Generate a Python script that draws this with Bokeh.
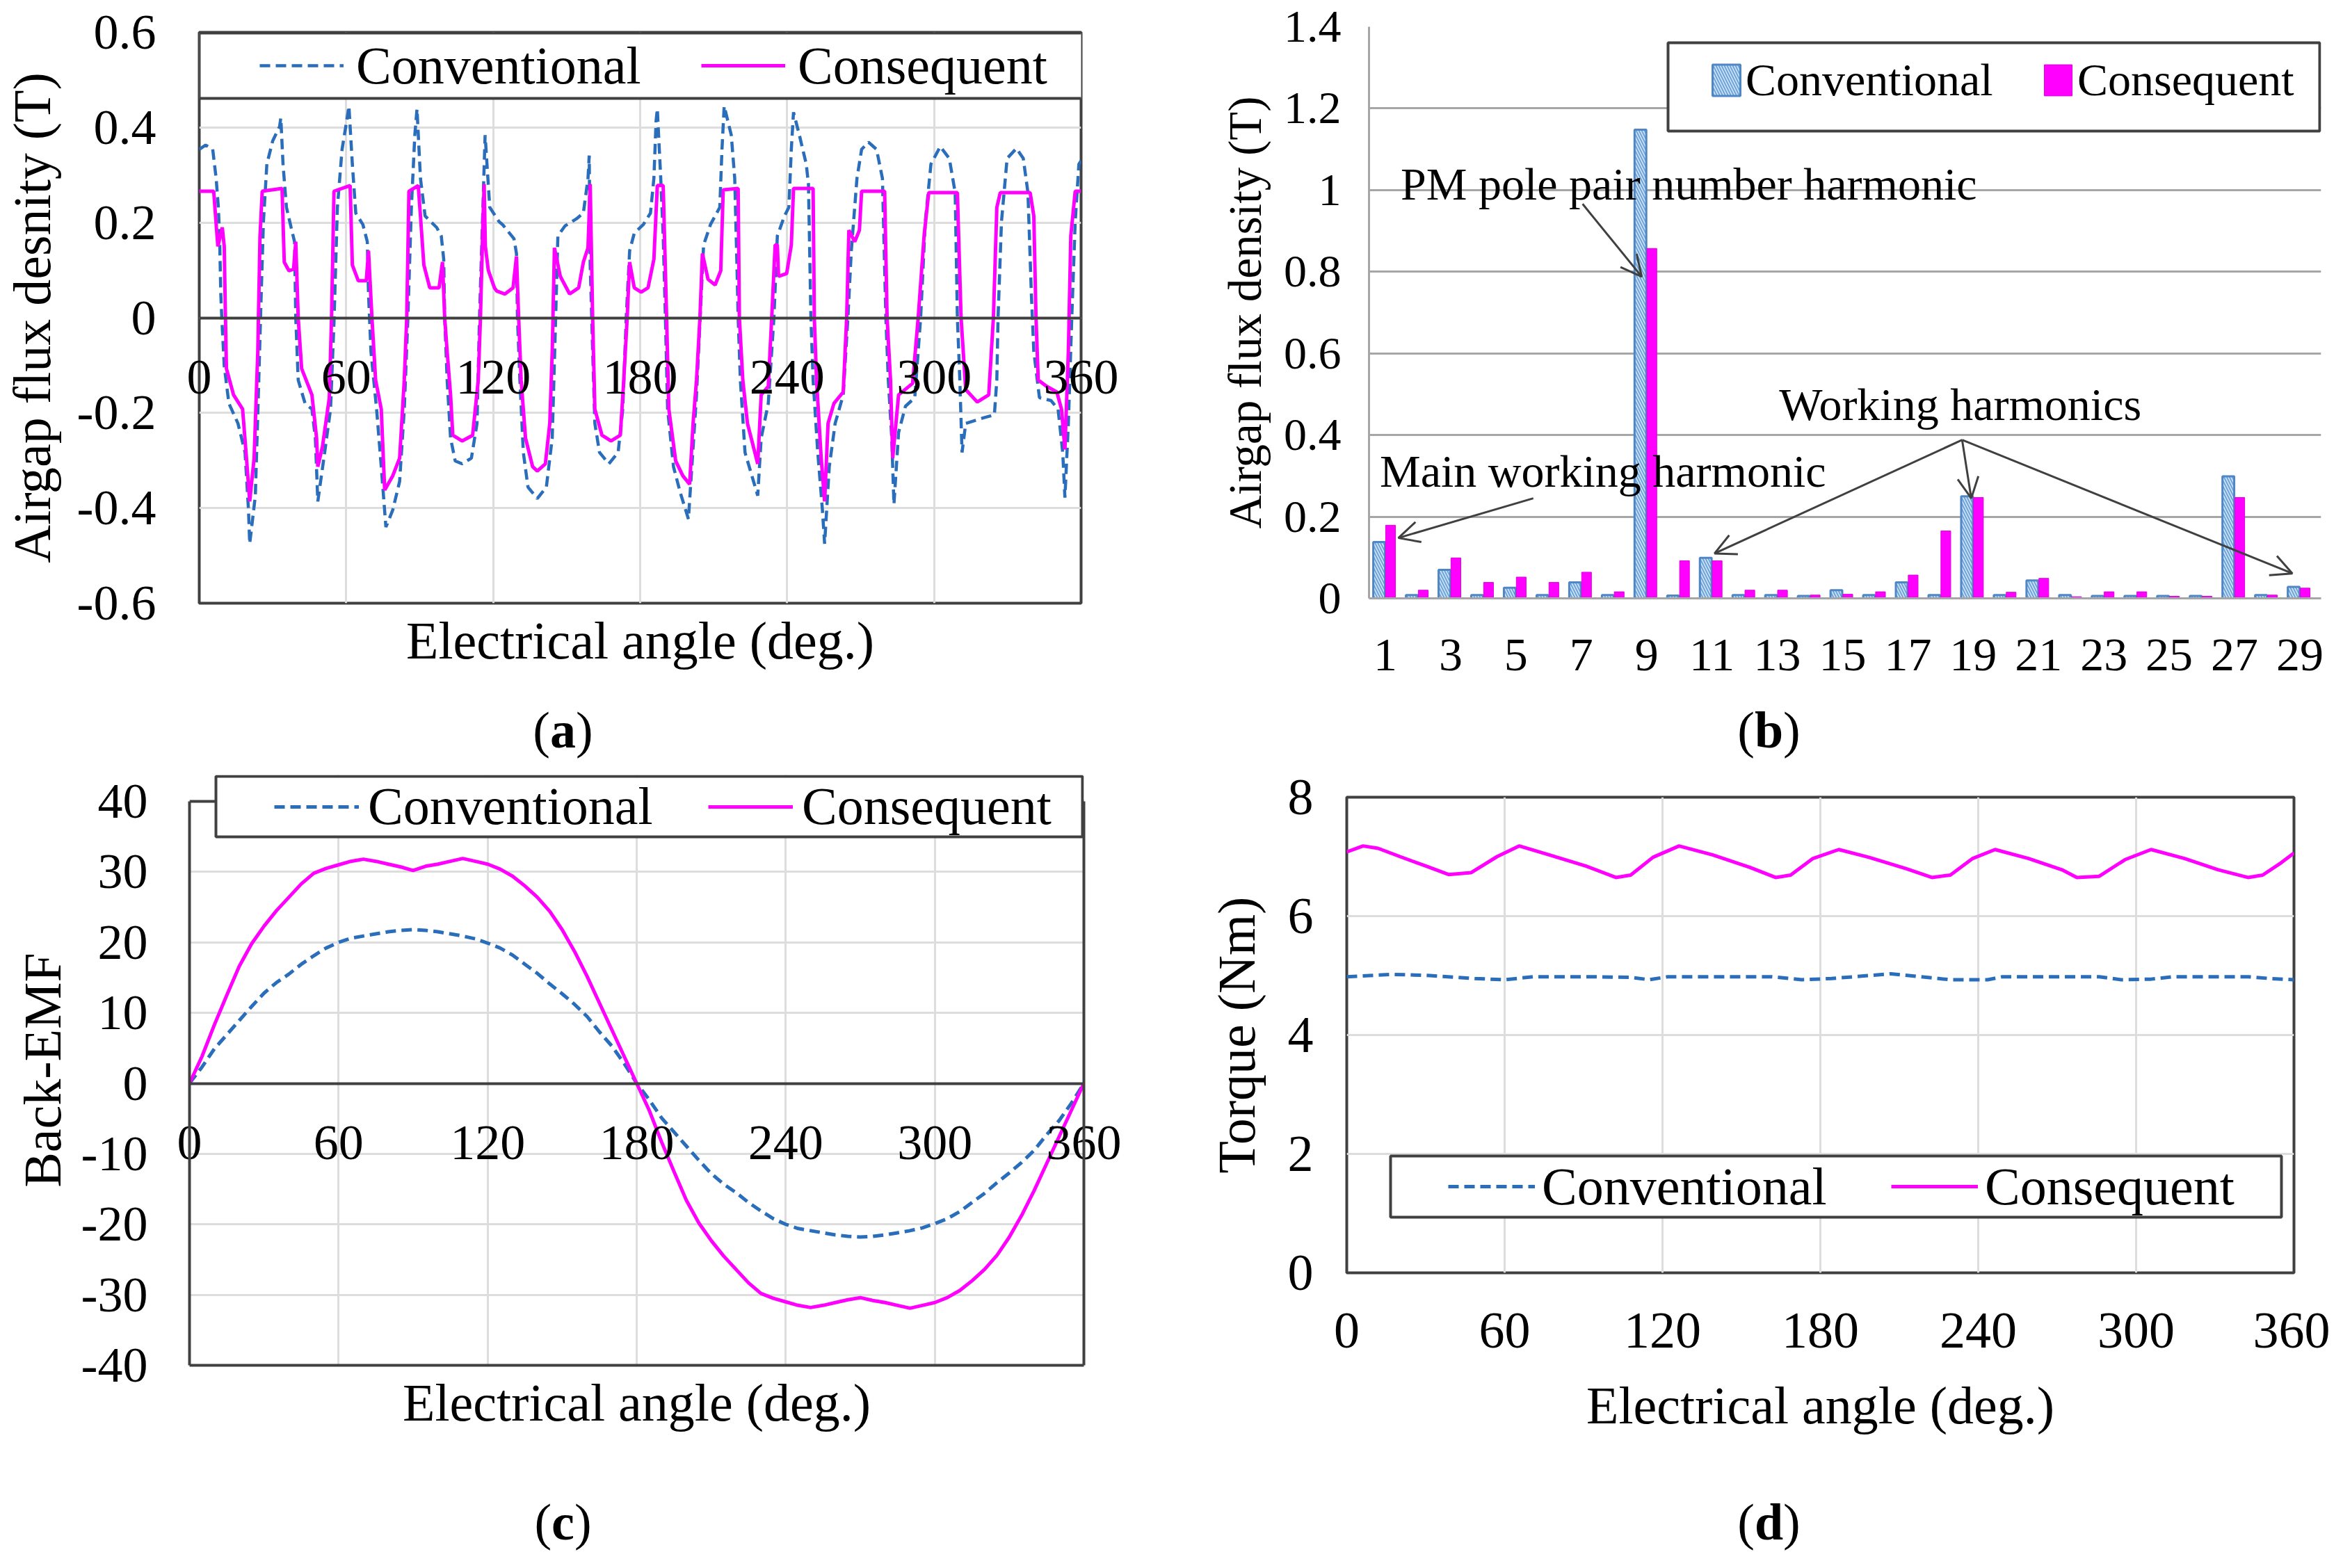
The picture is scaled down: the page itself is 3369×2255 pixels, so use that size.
from bokeh.plotting import figure
from bokeh.models import (Range1d, LinearAxis, FixedTicker, CustomJSTickFormatter, Legend,
                          LegendItem, BoxAnnotation, Label, Arrow, OpenHead, ColumnDataSource)
from bokeh.layouts import row, column
from bokeh.transform import dodge
from bokeh.embed import file_html
from bokeh.resources import INLINE

# ---------------------------------------------------------------- data
series_names = ["Conventional", "Consequent"]
angle_ticks = [0, 60, 120, 180, 240, 300, 360]

# (a) airgap flux density waveform
a_conv_deg = [0, 2.6, 5.5, 6.9, 7.8, 8.3, 8.8, 9.2, 10.2, 12.1, 15.8, 18.7, 20.1, 20.6, 22.9, 24.3,
              25.3, 26.2, 27.6, 30.0, 32.8, 33.3, 34.2, 35.6, 37.5, 38.9, 39.4, 40.4, 43.2, 46.0,
              47.4, 48.4, 51.2, 53.6, 55.0, 56.4, 58.3, 60.2, 61.1, 62.5, 63.9, 66.8, 68.6, 69.1,
              70.1, 72.4, 74.3, 76.2, 79.0, 81.8, 83.7, 85.1, 86.6, 88.0, 88.9, 90.3, 92.2, 96.9,
              98.8, 99.8, 100.2, 101.2, 102.6, 104.5, 107.3, 111.1, 113.4, 114.4, 115.8, 116.7,
              118.6, 122.4, 123.8, 128.5, 129.5, 129.9, 130.9, 132.3, 134.2, 138.0, 141.7, 144.1,
              145.5, 146.4, 149.3, 154.0, 156.8, 158.7, 159.2, 159.6, 160.6, 161.5, 163.4, 167.2,
              171.0, 172.9, 174.3, 175.7, 177.6, 181.3, 184.2, 185.6, 186.5, 187.0, 188.4, 189.4,
              190.3, 191.2, 193.6, 196.4, 199.7, 201.1, 203.0, 204.4, 205.9, 208.7, 212.5, 213.4,
              214.3, 217.2, 218.6, 219.5, 220.0, 220.9, 222.8, 225.6, 228.0, 229.4, 232.3, 234.6,
              236.0, 238.9, 240.7, 241.7, 242.6, 245.0, 247.8, 248.7, 249.7, 250.6, 252.5, 254.4,
              255.3, 257.2, 259.6, 262.9, 264.8, 266.2, 268.5, 270.4, 273.2, 276.5, 278.9, 280.3,
              281.3, 282.7, 283.6, 285.5, 288.3, 292.1, 294.5, 296.4, 298.7, 302.5, 306.2, 308.6,
              309.5, 310.5, 311.4, 312.9, 316.6, 320.4, 324.6, 325.6, 326.1, 327.5, 329.8, 333.6,
              336.4, 338.3, 339.7, 340.7, 343.0, 347.7, 350.6, 352.5, 353.4, 354.8, 356.2, 357.6,
              359.1, 360.0]
a_conv_T = [0.354, 0.363, 0.354, 0.293, 0.232, 0.172, 0.05, 0.0, -0.101, -0.18, -0.222, -0.283, -0.404,
            -0.475, -0.374, -0.131, 0.05, 0.202, 0.323, 0.372, 0.402, 0.42, 0.323, 0.232, 0.19, 0.16,
            0.0, -0.131, -0.18, -0.192, -0.253, -0.386, -0.283, -0.192, -0.01, 0.232, 0.354, 0.414,
            0.445, 0.323, 0.22, 0.196, 0.16, 0.05, -0.071, -0.192, -0.313, -0.44, -0.404, -0.344,
            -0.192, -0.01, 0.232, 0.384, 0.439, 0.293, 0.214, 0.19, 0.172, 0.123, 0.0, -0.131, -0.253,
            -0.301, -0.307, -0.295, -0.222, 0.0, 0.232, 0.384, 0.232, 0.202, 0.196, 0.166, 0.135, 0.0,
            -0.131, -0.283, -0.356, -0.38, -0.356, -0.253, 0.0, 0.172, 0.193, 0.208, 0.22, 0.293,
            0.341, 0.111, -0.071, -0.222, -0.283, -0.307, -0.283, -0.192, 0.0, 0.141, 0.178, 0.196,
            0.22, 0.293, 0.414, 0.439, 0.293, 0.172, 0.0, -0.192, -0.313, -0.368, -0.423, -0.313,
            -0.162, -0.01, 0.153, 0.196, 0.232, 0.354, 0.445, 0.384, 0.293, 0.111, 0.0, -0.131,
            -0.283, -0.332, -0.374, -0.253, -0.18, 0.0, 0.172, 0.214, 0.232, 0.354, 0.432, 0.384,
            0.323, 0.281, 0.0, -0.131, -0.283, -0.404, -0.475, -0.313, -0.222, -0.162, 0.0, 0.141,
            0.293, 0.354, 0.369, 0.354, 0.293, 0.0, -0.131, -0.253, -0.392, -0.241, -0.186, -0.168,
            0.0, 0.202, 0.323, 0.36, 0.335, 0.263, 0.0, -0.131, -0.283, -0.222, -0.216, -0.21,
            -0.204, -0.131, 0.0, 0.202, 0.335, 0.356, 0.335, 0.263, 0.05, -0.071, -0.168, -0.174,
            -0.192, -0.283, -0.378, -0.222, 0.0, 0.202, 0.323, 0.33]
a_cons_deg = [0, 5.9, 7.0, 7.6, 9.4, 10.2, 10.7, 11.1, 14.0, 17.7, 19.1, 20.6, 22.4, 23.9, 24.8, 25.7,
              33.8, 34.7, 36.6, 38.5, 39.4, 40.4, 41.8, 46.0, 47.9, 48.4, 50.3, 53.1, 54.0, 55.0,
              61.6, 62.5, 64.9, 68.2, 69.1, 70.5, 72.0, 74.3, 75.7, 79.0, 81.8, 83.7, 84.7, 85.6,
              89.4, 90.3, 91.7, 94.1, 97.9, 99.3, 100.2, 101.2, 102.6, 103.5, 107.3, 111.6, 113.9,
              114.8, 115.8, 116.3, 116.8, 118.0, 120.5, 121.5, 124.8, 128.1, 129.5, 130.4, 131.4,
              133.2, 136.1, 138.0, 141.3, 143.1, 144.1, 145.0, 147.4, 151.2, 154.9, 156.8, 158.7,
              159.6, 160.6, 161.5, 164.4, 168.1, 171.9, 173.3, 174.7, 175.7, 177.6, 180.4, 183.2,
              185.6, 187.0, 189.4, 190.8, 191.7, 194.5, 197.4, 200.2, 201.6, 203.0, 204.4, 205.4,
              207.7, 210.6, 212.9, 213.9, 220.0, 220.5, 221.9, 223.8, 228.0, 229.4, 232.3, 233.7,
              235.1, 236.0, 236.5, 239.8, 241.7, 242.6, 250.6, 251.1, 252.0, 253.9, 255.3, 256.7,
              259.1, 262.9, 264.3, 265.2, 267.6, 269.5, 270.4, 279.8, 280.8, 282.2, 283.1, 285.5,
              291.2, 293.5, 295.9, 297.8, 309.5, 311.0, 312.9, 317.6, 322.3, 324.2, 325.6, 327.0,
              339.2, 340.7, 341.6, 342.5, 345.9, 350.1, 352.0, 353.4, 354.8, 355.8, 357.6, 360.0]
a_cons_T = [0.266, 0.266, 0.19, 0.15, 0.19, 0.15, 0.0, -0.107, -0.162, -0.192, -0.283, -0.386, -0.295,
            -0.071, 0.172, 0.266, 0.272, 0.117, 0.099, 0.102, 0.16, 0.0, -0.107, -0.162, -0.253,
            -0.313, -0.271, -0.168, 0.0, 0.266, 0.278, 0.111, 0.078, 0.078, 0.141, 0.0, -0.131,
            -0.192, -0.362, -0.332, -0.295, -0.131, 0.0, 0.266, 0.278, 0.214, 0.111, 0.063, 0.063,
            0.117, 0.0, -0.071, -0.162, -0.247, -0.259, -0.247, -0.131, 0.0, 0.2, 0.281, 0.15, 0.1,
            0.063, 0.056, 0.05, 0.063, 0.129, 0.0, -0.131, -0.253, -0.313, -0.322, -0.307, -0.222,
            -0.071, 0.147, 0.087, 0.05, 0.063, 0.117, 0.147, 0.281, 0.0, -0.192, -0.247, -0.259,
            -0.247, -0.131, 0.0, 0.117, 0.063, 0.054, 0.063, 0.123, 0.278, 0.278, 0.0, -0.192,
            -0.301, -0.332, -0.35, -0.222, -0.131, 0.0, 0.135, 0.081, 0.069, 0.099, 0.269, 0.272,
            0.0, -0.131, -0.222, -0.307, -0.162, -0.144, 0.0, 0.153, 0.153, 0.087, 0.093, 0.153,
            0.272, 0.272, 0.0, -0.131, -0.295, -0.386, -0.222, -0.18, -0.156, 0.0, 0.184, 0.16,
            0.184, 0.266, 0.266, 0.0, -0.131, -0.295, -0.162, -0.138, 0.0, 0.172, 0.263, 0.263,
            0.0, -0.151, -0.177, -0.162, 0.0, 0.232, 0.263, 0.263, 0.214, 0.0, -0.131, -0.144,
            -0.156, -0.192, -0.277, -0.071, 0.172, 0.266, 0.266]
a_y_ticks = [-0.6, -0.4, -0.2, 0, 0.2, 0.4, 0.6]

# (b) harmonic spectrum
harmonic_order = list(range(1, 30))
b_conv = [0.138, 0.008, 0.07, 0.008, 0.026, 0.008, 0.039, 0.008, 1.148, 0.007, 0.099, 0.008, 0.008,
          0.006, 0.02, 0.008, 0.039, 0.008, 0.25, 0.008, 0.044, 0.008, 0.006, 0.006, 0.006, 0.006,
          0.299, 0.008, 0.028]
b_cons = [0.179, 0.02, 0.099, 0.039, 0.052, 0.039, 0.064, 0.016, 0.857, 0.092, 0.092, 0.02, 0.02,
          0.008, 0.01, 0.016, 0.057, 0.165, 0.247, 0.015, 0.049, 0.004, 0.016, 0.016, 0.005, 0.005,
          0.247, 0.008, 0.025]
b_x_ticks = [1, 3, 5, 7, 9, 11, 13, 15, 17, 19, 21, 23, 25, 27, 29]
b_y_ticks = [0, 0.2, 0.4, 0.6, 0.8, 1.0, 1.2, 1.4]
b_notes = ["PM pole pair number harmonic", "Working harmonics", "Main working harmonic"]
b_note_x = [1.47, 13.06, 0.83]
b_note_y = [1.015, 0.475, 0.312]
# arrows: start x, start y, end x, end y (data units)
b_arrow_x0 = [7.04, 5.53, 18.66, 18.66, 18.66]
b_arrow_y0 = [0.966, 0.245, 0.388, 0.388, 0.388]
b_arrow_x1 = [8.85, 1.40, 11.08, 18.94, 28.77]
b_arrow_y1 = [0.788, 0.148, 0.11, 0.245, 0.061]

# (c) back-EMF, every 5 degrees
c_angle = list(range(0, 361, 5))
c_conv = [0, 2.3, 4.9, 6.9, 8.9, 10.9, 12.8, 14.3, 15.5, 16.9, 18.1, 19.2, 20.0, 20.6, 20.9, 21.2,
          21.5, 21.7, 21.8, 21.7, 21.5, 21.2, 20.9, 20.5, 19.9, 19.2, 18.2, 16.9, 15.6, 14.1, 12.7,
          11.2, 9.5, 7.3, 5.3, 2.8, 0,
          -2.3, -4.9, -6.9, -8.9, -10.9, -12.8, -14.3, -15.5, -16.9, -18.1, -19.2, -20.0, -20.6,
          -20.9, -21.2, -21.5, -21.7, -21.8, -21.7, -21.5, -21.2, -20.9, -20.5, -19.9, -19.2, -18.2,
          -16.9, -15.6, -14.1, -12.7, -11.2, -9.5, -7.3, -5.3, -2.8, 0]
c_cons = [0, 3.8, 8.3, 12.5, 16.6, 19.8, 22.3, 24.5, 26.4, 28.3, 29.8, 30.5, 31.0, 31.5, 31.8, 31.5,
          31.1, 30.7, 30.2, 30.8, 31.1, 31.5, 31.9, 31.5, 31.1, 30.4, 29.4, 28.0, 26.4, 24.4, 21.8,
          18.7, 15.2, 11.4, 7.6, 3.8, 0,
          -3.8, -8.3, -12.5, -16.6, -19.8, -22.3, -24.5, -26.4, -28.3, -29.8, -30.5, -31.0, -31.5,
          -31.8, -31.5, -31.1, -30.7, -30.4, -30.8, -31.1, -31.5, -31.9, -31.5, -31.1, -30.4, -29.4,
          -28.0, -26.4, -24.4, -21.8, -18.7, -15.2, -11.4, -7.6, -3.8, 0]
c_y_ticks = [-40, -30, -20, -10, 0, 10, 20, 30, 40]

# (d) torque
d_cons_deg = [0, 6.2, 11.9, 20.3, 30.2, 38.7, 47.2, 57.1, 65.6, 76.9, 91.0, 102.3, 107.9, 116.4,
              126.3, 139.0, 153.2, 163.0, 168.7, 177.2, 187.0, 198.4, 212.5, 222.4, 229.4, 237.9,
              246.4, 259.1, 271.8, 277.5, 286.0, 295.8, 305.7, 318.4, 331.2, 342.5, 348.1, 355.2, 360]
d_cons = [7.08, 7.18, 7.14, 7.0, 6.84, 6.70, 6.73, 7.0, 7.18, 7.03, 6.84, 6.65, 6.69, 6.99, 7.18,
          7.03, 6.82, 6.65, 6.69, 6.97, 7.12, 6.99, 6.80, 6.65, 6.69, 6.97, 7.12, 6.97, 6.78, 6.65,
          6.67, 6.95, 7.12, 6.97, 6.78, 6.65, 6.69, 6.90, 7.06]
d_conv_deg = [0, 17.5, 31.6, 48.6, 60.0, 71.0, 93.8, 108.0, 115.0, 122.0, 161.6, 172.9, 184.2, 206.8,
              218.1, 229.4, 243.6, 249.2, 286.0, 294.4, 305.7, 314.2, 342.5, 351.0, 360]
d_conv = [4.98, 5.02, 5.0, 4.95, 4.93, 4.98, 4.98, 4.97, 4.93, 4.98, 4.98, 4.93, 4.95, 5.03, 4.98,
          4.93, 4.93, 4.98, 4.98, 4.93, 4.94, 4.98, 4.98, 4.95, 4.93]
d_y_ticks = [0, 2, 4, 6, 8]

# ---------------------------------------------------------------- style / layout
FONT = "Liberation Serif"
BLUE = "#2A6EBB"
MAG = "#FF00FF"
DARK = "#404040"
GRID_LIGHT = "#DDDDDD"
GRID_MID = "#A6A6A6"
DASH = "15 8"
FMT = "return String(Math.round(tick*10)/10);"

W_L, W_R = 1680, 1670
H_T, TAG_T, H_B, TAG_B = 1000, 100, 1022, 116
ORIGIN = {"a": (8, 8), "b": (8 + W_L, 8), "c": (8, 8 + H_T + TAG_T), "d": (8 + W_L, 8 + H_T + TAG_T)}
# frame edges in page pixels: left, right, top, bottom
FRAMES = {"a": (289, 1562, 54, 875), "b": (1976, 3345, 46, 868),
          "c": (280, 1566, 1122, 1971), "d": (1944, 3306, 1154, 1838)}
C_TOP = 40 + (1160 - 1122) * 80.0 / (1971 - 1160)   # (c) frame extends above the 40 line


def make_fig(key, w, h, xr, yr):
    ox, oy = ORIGIN[key]
    l, r, t, b = FRAMES[key]
    p = figure(width=w, height=h, x_range=xr, y_range=yr, output_backend="svg",
               toolbar_location=None, frame_align=False,
               min_border_left=l - ox, min_border_right=w - (r - ox),
               min_border_top=t - oy, min_border_bottom=h - (b - oy))
    p.background_fill_color = "white"
    p.border_fill_color = "white"
    return p


def style_axis(ax, fs, standoff, label=None, label_fs=76, label_standoff=10):
    ax.major_label_text_font = FONT
    ax.major_label_text_font_size = f"{fs}px"
    ax.major_label_text_color = "black"
    ax.major_label_standoff = standoff
    ax.major_tick_line_color = None
    ax.minor_tick_line_color = None
    ax.major_tick_out = 0
    ax.major_tick_in = 0
    ax.formatter = CustomJSTickFormatter(code=FMT)
    if label is not None:
        ax.axis_label = label
        ax.axis_label_text_font = FONT
        ax.axis_label_text_font_size = f"{label_fs}px"
        ax.axis_label_text_font_style = "normal"
        ax.axis_label_text_color = "black"
        ax.axis_label_standoff = label_standoff


def line_axis(p, place, fixed=None, bounds="auto", width=4):
    ax = LinearAxis(ticker=FixedTicker(ticks=[]), axis_line_color=DARK, axis_line_width=width,
                    major_tick_line_color=None, minor_tick_line_color=None,
                    major_label_standoff=0, major_tick_out=0, major_tick_in=0, bounds=bounds)
    if fixed is not None:
        ax.fixed_location = fixed
    p.add_layout(ax, place)


def add_legend(p, key, renderers, box, glyph_x0, gw, gh, standoff, label_w, fs):
    l, r, t, b = FRAMES[key]
    x0, y0, x1, y1 = box
    p.add_layout(BoxAnnotation(left=x0 - l, right=x1 - l, top=b - y0, bottom=b - y1,
                               left_units="screen", right_units="screen",
                               top_units="screen", bottom_units="screen",
                               fill_color="white", fill_alpha=1.0,
                               line_color=DARK, line_width=4, line_alpha=1.0))
    cy = (y0 + y1) / 2
    leg = Legend(items=[LegendItem(label=n, renderers=[rr]) for n, rr in zip(series_names, renderers)],
                 orientation="horizontal", location=(glyph_x0 - l, b - cy - gh / 2),
                 padding=0, margin=0, spacing=0, glyph_width=gw, glyph_height=gh,
                 label_height=gh, label_width=label_w, label_standoff=standoff,
                 label_text_font=FONT, label_text_font_size=f"{fs}px", label_text_color="black",
                 border_line_color=None, background_fill_alpha=0)
    p.add_layout(leg)


def tag_fig(w, h, letter, cx, cy, fs=74):
    p = figure(width=w, height=h, x_range=Range1d(0, w), y_range=Range1d(0, h),
               output_backend="svg", toolbar_location=None, frame_align=False,
               x_axis_location=None, y_axis_location=None, min_border=0)
    p.outline_line_color = None
    p.grid.visible = False
    bw = {"a": 0.5, "b": 0.556, "c": 0.444, "d": 0.556}[letter] * fs
    common = dict(y=cy, text_baseline="middle", text_font=FONT,
                  text_font_size=f"{fs}px", text_color="black")
    p.add_layout(Label(x=cx - bw / 2, text="(", text_align="right", **common))
    p.add_layout(Label(x=cx, text=letter, text_align="center", text_font_style="bold", **common))
    p.add_layout(Label(x=cx + bw / 2, text=")", text_align="left", **common))
    return p


def light_grid(p):
    p.xgrid.grid_line_color = GRID_LIGHT
    p.xgrid.grid_line_width = 3
    p.ygrid.grid_line_color = GRID_LIGHT
    p.ygrid.grid_line_width = 3


# ---------------------------------------------------------------- (a)
pa = make_fig("a", W_L, H_T, Range1d(0, 360), Range1d(-0.6, 0.6))
light_grid(pa)
pa.outline_line_color = DARK
pa.outline_line_width = 4
xa = pa.xaxis[0]
xa.ticker = FixedTicker(ticks=angle_ticks)
xa.axis_line_color = None
style_axis(xa, 72, -349, "Electrical angle (deg.)", 76, 310)
ya = pa.yaxis[0]
ya.ticker = FixedTicker(ticks=a_y_ticks)
ya.axis_line_color = None
style_axis(ya, 72, 62, "Airgap flux desnity (T)", 76, 20)
line_axis(pa, "below", fixed=0)
ra1 = pa.line(a_conv_deg, a_conv_T, line_color=BLUE, line_width=4.5, line_dash=DASH)
ra2 = pa.line(a_cons_deg, a_cons_T, line_color=MAG, line_width=5)
add_legend(pa, "a", [ra1, ra2], (289, 55, 1560, 149), 376, 121, 90, 18, 496, 76)

# ---------------------------------------------------------------- (b)
pb = make_fig("b", W_R, H_T, Range1d(0.5, 29.65), Range1d(0, 1.4))
pb.outline_line_color = None
pb.xgrid.visible = False
pb.ygrid.grid_line_color = GRID_MID
pb.ygrid.grid_line_width = 3
xb = pb.xaxis[0]
xb.ticker = FixedTicker(ticks=b_x_ticks)
xb.axis_line_color = GRID_MID
xb.axis_line_width = 3
style_axis(xb, 68, 59)
yb = pb.yaxis[0]
yb.ticker = FixedTicker(ticks=b_y_ticks)
yb.axis_line_color = GRID_MID
yb.axis_line_width = 3
style_axis(yb, 66, 40, "Airgap flux density (T)", 67, 16)
src_b = ColumnDataSource(dict(h=harmonic_order, conv=b_conv, cons=b_cons))
rb1 = pb.vbar(x=dodge("h", -0.19), top="conv", width=0.36, bottom=0, source=src_b,
              fill_color="#CFE6F8", line_color="#4F86C6", line_width=3,
              hatch_pattern="left_diagonal_line", hatch_color="#6FA3D8", hatch_weight=2, hatch_scale=8)
rb2 = pb.vbar(x=dodge("h", 0.16), top="cons", width=0.30, bottom=0, source=src_b,
              fill_color=MAG, line_color="#E000E0", line_width=1)
for xs, ys, xe, ye in zip(b_arrow_x0, b_arrow_y0, b_arrow_x1, b_arrow_y1):
    pb.add_layout(Arrow(x_start=xs, y_start=ys, x_end=xe, y_end=ye, line_color=DARK, line_width=3,
                        end=OpenHead(size=30, line_color=DARK, line_width=3)))
for txt, tx, ty in zip(b_notes, b_note_x, b_note_y):
    pb.add_layout(Label(x=tx, y=ty, text=txt, text_align="left", text_baseline="middle",
                        text_font=FONT, text_font_size="66px", text_color="black"))
add_legend(pb, "b", [rb1, rb2], (2406, 69, 3343, 196), 2465, 50, 56, 3, 424, 66)

# ---------------------------------------------------------------- (c)
pc = make_fig("c", W_L, H_B, Range1d(0, 360), Range1d(-40, C_TOP))
light_grid(pc)
pc.outline_line_color = None
xc = pc.xaxis[0]
xc.ticker = FixedTicker(ticks=angle_ticks)
xc.axis_line_color = DARK
xc.axis_line_width = 4
style_axis(xc, 72, -344, "Electrical angle (deg.)", 76, 305)
yc = pc.yaxis[0]
yc.ticker = FixedTicker(ticks=c_y_ticks)
yc.axis_line_color = DARK
yc.axis_line_width = 4
yc.bounds = (-40, 40)
style_axis(yc, 72, 60, "Back-EMF", 76, 11)
line_axis(pc, "right", bounds=(-40, 40))
line_axis(pc, "below", fixed=40)
line_axis(pc, "below", fixed=0)
rc1 = pc.line(c_angle, c_conv, line_color=BLUE, line_width=5, line_dash=DASH)
rc2 = pc.line(c_angle, c_cons, line_color=MAG, line_width=5)
add_legend(pc, "c", [rc1, rc2], (318, 1124, 1564, 1211), 402, 122, 90, 13, 489, 76)

# ---------------------------------------------------------------- (d)
pd_ = make_fig("d", W_R, H_B, Range1d(0, 360), Range1d(0, 8))
light_grid(pd_)
pd_.outline_line_color = DARK
pd_.outline_line_width = 4
xd = pd_.xaxis[0]
xd.ticker = FixedTicker(ticks=angle_ticks)
xd.axis_line_color = None
style_axis(xd, 74, 58, "Electrical angle (deg.)", 76, 38)
yd = pd_.yaxis[0]
yd.ticker = FixedTicker(ticks=d_y_ticks)
yd.axis_line_color = None
style_axis(yd, 74, 48, "Torque (Nm)", 76, 29)
rd1 = pd_.line(d_conv_deg, d_conv, line_color=BLUE, line_width=5, line_dash=DASH)
rd2 = pd_.line(d_cons_deg, d_cons, line_color=MAG, line_width=5)
add_legend(pd_, "d", [rd1, rd2], (2007, 1670, 3288, 1758), 2090, 125, 90, 10, 502, 76)

# ---------------------------------------------------------------- panel tags
ta = tag_fig(W_L, TAG_T, "a", 817 - 8, 8 + H_T + TAG_T - 1057)
tb = tag_fig(W_R, TAG_T, "b", 2551 - 8 - W_L, 8 + H_T + TAG_T - 1057)
tc = tag_fig(W_L, TAG_B, "c", 817 - 8, 8 + H_T + TAG_T + H_B + TAG_B - 2196)
td = tag_fig(W_R, TAG_B, "d", 2551 - 8 - W_L, 8 + H_T + TAG_T + H_B + TAG_B - 2196)

layout = column(row(pa, pb), row(ta, tb), row(pc, pd_), row(tc, td))
open("out.html", "w").write(file_html(layout, INLINE))
